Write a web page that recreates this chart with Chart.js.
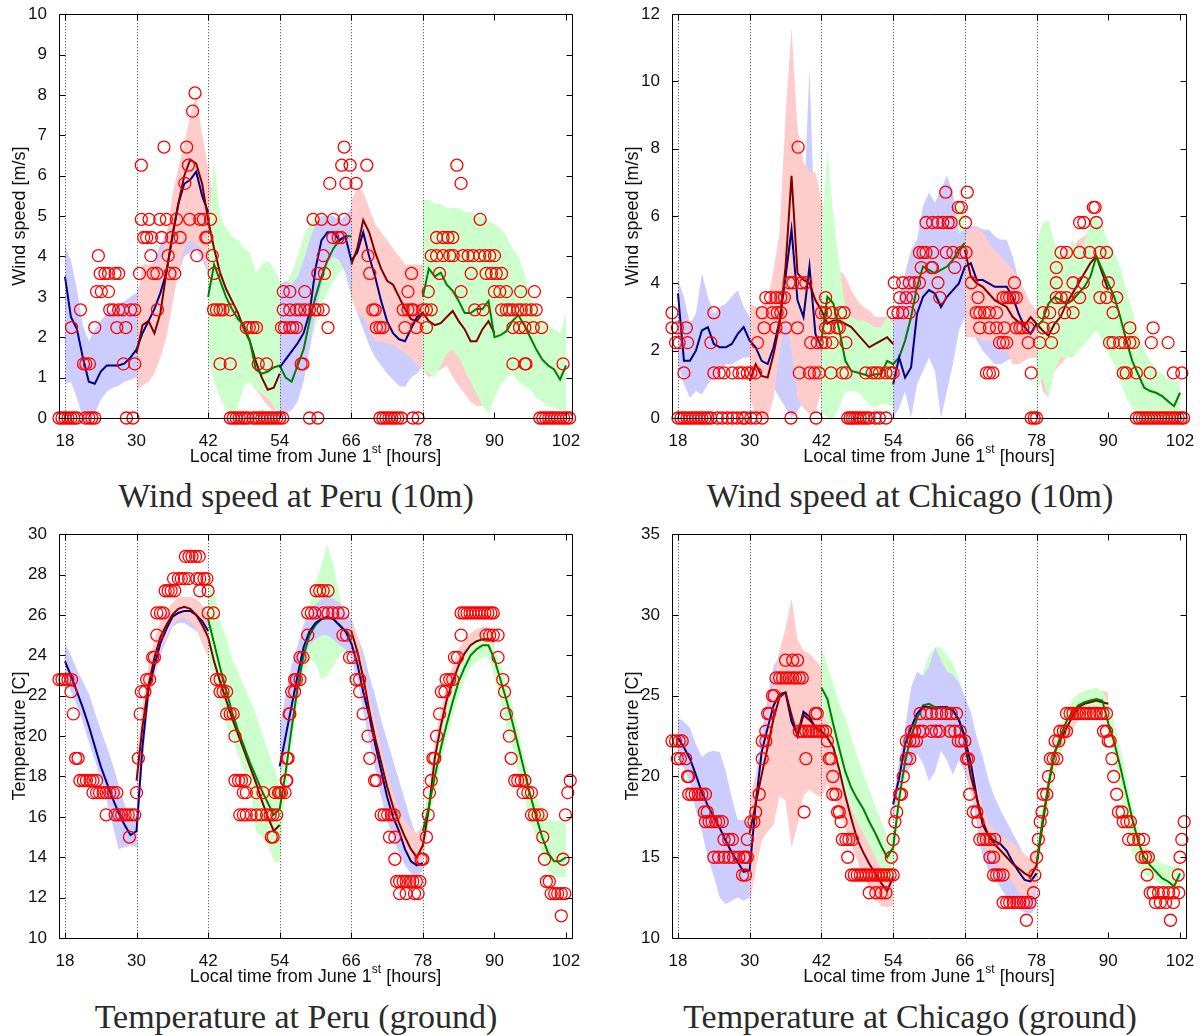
<!DOCTYPE html>
<html>
<head>
<meta charset="utf-8">
<script src="https://cdn.jsdelivr.net/npm/chart.js@4.4.1/dist/chart.umd.min.js"></script>
<style>
  html, body { margin: 0; padding: 0; background: #fff; }
  #page { position: relative; width: 1200px; height: 1036px; overflow: hidden; }
  canvas { position: absolute; }
  .caption {
    position: absolute; width: 600px; text-align: center; white-space: nowrap;
    font-family: "Liberation Serif", "Times New Roman", serif;
    font-size: 34px; line-height: 34px; color: #2a2a2a;
  }
</style>
</head>
<body>
<div id="page">
  <canvas id="c1" width="600" height="470" style="left:0;top:0"></canvas>
  <canvas id="c2" width="600" height="470" style="left:600px;top:0"></canvas>
  <canvas id="c3" width="600" height="470" style="left:0;top:520px"></canvas>
  <canvas id="c4" width="600" height="470" style="left:600px;top:520px"></canvas>
  <div class="caption" style="left:-4px;top:479px">Wind speed at Peru (10m)</div>
  <div class="caption" style="left:610px;top:479px">Wind speed at Chicago (10m)</div>
  <div class="caption" style="left:-4px;top:1000px">Temperature at Peru (ground)</div>
  <div class="caption" style="left:610px;top:1000px">Temperature at Chicago (ground)</div>
</div>
<script>
// forecast runs start every 12 h and last 24 h (hourly values)
const runStarts = [18, 30, 42, 54, 66, 78];
const hourTicks = [18, 30, 42, 54, 66, 78, 90, 102];
const dayLines = [18, 30, 42, 54, 66, 78];
const peruWindTicks = [0, 1, 2, 3, 4, 5, 6, 7, 8, 9, 10];
const chicagoWindTicks = [0, 2, 4, 6, 8, 10, 12];
const peruTempTicks = [10, 12, 14, 16, 18, 20, 22, 24, 26, 28, 30];
const chicagoTempTicks = [10, 15, 20, 25, 30, 35];

// ---- Wind speed at Peru ----
const peruWindMean = [
  [3.5, 2.5, 2.2, 1.5, 0.9, 0.85, 1.15, 1.3, 1.3, 1.3, 1.35, 1.5, 1.7, 2.1, 2.4, 2.7, 3.1, 3.6, 4.5, 5.3, 5.8, 5.9, 6.1, 5.5, 5.1],
  [1.6, 2.3, 2.4, 2.1, 2.6, 3.6, 4.5, 5.3, 6.0, 6.4, 6.3, 5.8, 4.9, 4.2, 3.6, 3.2, 2.9, 2.6, 2.2, 1.9, 1.4, 1.0, 0.7, 0.75, 1.1],
  [3.0, 3.8, 3.4, 3.0, 2.7, 2.45, 2.3, 1.9, 1.2, 1.1, 1.15, 1.25, 1.3, 1.0, 0.9, 1.3, 1.7, 2.4, 3.0, 3.5, 3.9, 4.2, 4.4, 4.5, 4.5],
  [1.25, 1.45, 1.65, 1.85, 2.1, 2.6, 3.7, 4.4, 4.6, 4.6, 4.4, 4.5, 3.9, 4.1, 4.6, 4.0, 3.5, 2.9, 2.4, 2.1, 1.95, 1.9, 2.2, 2.5, 2.6],
  [3.8, 4.2, 4.9, 4.6, 4.1, 3.7, 3.4, 3.3, 3.0, 2.7, 2.45, 2.4, 2.6, 2.4, 2.3, 2.35, 2.5, 2.65, 2.4, 2.2, 1.9, 1.9, 2.2, 2.4, 2.1],
  [3.0, 3.7, 3.5, 3.6, 3.3, 3.15, 2.9, 2.6, 2.6, 2.7, 2.7, 2.9, 2.0, 2.05, 2.15, 2.4, 2.55, 2.3, 2.0, 1.7, 1.45, 1.3, 1.2, 0.95, 1.3]
];
const peruWindLow = [
  [0.85, 0.9, 0.5, 0, 0, 0.1, 0.45, 0.65, 0.75, 0.8, 0.9, 0.95, 1.0, 1.2, 1.3, 1.5, 1.8, 2.3, 2.9, 3.6, 4.0, 4.1, 4.2, 3.9, 3.6],
  [0.7, 0.8, 0.9, 1.1, 1.5, 2.0, 2.8, 3.6, 4.2, 4.4, 4.3, 4.2, 3.6, 2.8, 2.2, 1.8, 1.5, 1.3, 1.1, 0.9, 0.7, 0.5, 0.3, 0.2, 0.2],
  [1.5, 0.9, 0.5, 0.2, 0, 0.3, 0.8, 0.9, 0.7, 0.6, 0.5, 0.3, 0, 0.2, 0.3, 0.6, 1.1, 1.7, 2.3, 2.8, 3.1, 3.4, 3.6, 3.7, 3.8],
  [0, 0.1, 0.2, 0.4, 0.9, 1.7, 2.6, 3.3, 3.8, 4.0, 3.9, 3.6, 3.0, 2.6, 2.2, 1.8, 1.5, 1.3, 1.1, 0.95, 0.8, 0.77, 1.0, 1.1, 1.3],
  [3.0, 2.6, 2.5, 2.2, 1.9, 1.9, 1.85, 1.8, 1.7, 1.6, 1.5, 1.3, 1.2, 1.0, 1.1, 1.2, 1.3, 1.0, 0.8, 0.6, 0.4, 0.3, 0.3, 0.5, 0.8],
  [1.2, 1.1, 1.0, 1.3, 1.6, 1.7, 1.5, 1.2, 0.9, 0.6, 0.3, 0.1, 0.5, 0.8, 1.0, 1.1, 0.9, 0.8, 0.7, 0.5, 0.4, 0.3, 0.25, 0.2, 0.2]
];
const peruWindHigh = [
  [4.3, 3.9, 3.2, 2.3, 1.9, 2.2, 2.4, 2.6, 2.7, 2.8, 2.9, 3.0, 3.1, 3.5, 3.7, 3.9, 4.3, 4.6, 5.0, 5.6, 5.9, 6.2, 6.4, 6.0, 5.6],
  [2.8, 3.8, 3.8, 3.8, 3.9, 4.5, 5.5, 6.2, 6.8, 7.5, 8.0, 7.0, 6.2, 5.4, 4.8, 4.4, 4.2, 4.0, 3.8, 3.6, 3.5, 3.3, 3.1, 2.9, 2.6],
  [4.5, 6.4, 5.0, 4.7, 4.5, 4.4, 4.2, 4.1, 3.6, 3.8, 3.9, 3.7, 3.4, 3.3, 3.6, 4.0, 4.5, 4.8, 5.0, 5.1, 5.0, 4.9, 4.8, 4.7, 4.8],
  [3.3, 3.4, 3.3, 3.5, 3.9, 4.4, 4.8, 5.0, 5.0, 5.0, 4.9, 5.0, 5.2, 5.0, 4.8, 4.5, 4.2, 3.8, 3.4, 3.0, 2.8, 2.6, 2.8, 3.0, 3.2],
  [5.4, 5.7, 5.6, 5.2, 4.8, 4.6, 4.4, 4.2, 4.0, 3.8, 3.8, 3.8, 3.8, 3.7, 3.6, 3.5, 3.5, 3.4, 3.3, 3.2, 3.1, 3.0, 3.0, 3.0, 2.9],
  [5.4, 5.4, 5.3, 5.3, 5.2, 5.2, 5.2, 5.1, 5.1, 5.0, 5.0, 4.9, 4.8, 4.7, 4.5, 4.2, 4.0, 3.6, 3.0, 2.7, 2.4, 2.3, 2.2, 2.1, 2.6]
];
// observations: [value, [hours]]
const peruWindObs = [
  [0, [17.0, 17.5, 18.0, 18.5, 19.0, 19.5, 20.0, 21.4, 22.0, 22.5, 23.0, 28.3, 29.4, 45.7, 46.2, 46.7, 47.2, 47.7, 48.2, 48.7, 49.5, 50.0, 50.5, 51.0, 51.5, 52.0, 52.5, 53.0, 53.5, 54.0, 54.5, 59.0, 60.4, 70.8, 71.3, 71.8, 72.3, 72.8, 73.3, 73.8, 74.4, 76.3, 77.2, 97.6, 98.1, 98.6, 99.1, 99.6, 100.1, 100.6, 101.1, 101.6, 102.1, 102.6]],
  [1.34, [21.1, 21.5, 22.1, 27.8, 29.7, 44.0, 45.7, 50.4, 51.8, 57.6, 57.9, 93.1, 95.1, 95.3, 101.5]],
  [2.24, [19.1, 23.0, 26.7, 28.2, 48.4, 48.9, 49.5, 50.1, 54.3, 54.8, 55.7, 56.2, 56.8, 62.1, 70.2, 70.8, 71.3, 75.0, 76.9, 78.6, 93.1, 94.2, 95.1, 96.5, 97.9]],
  [2.68, [20.6, 25.5, 26.1, 27.0, 27.7, 29.0, 29.7, 33.5, 42.9, 43.4, 44.0, 44.5, 45.7, 54.6, 55.7, 56.8, 57.4, 58.2, 59.0, 59.9, 60.4, 61.3, 69.6, 70.0, 74.7, 75.5, 76.1, 76.4, 78.0, 78.6, 79.4, 86.7, 88.1, 91.2, 92.0, 92.5, 93.1, 93.9, 94.5, 95.3, 96.2, 97.0]],
  [3.13, [23.3, 24.1, 25.3, 54.6, 55.7, 58.2, 75.5, 78.9, 84.4, 90.0, 90.9, 92.0, 94.4, 96.7]],
  [3.58, [23.9, 24.7, 25.3, 26.4, 27.0, 30.5, 32.8, 33.4, 35.6, 36.4, 43.0, 60.4, 61.5, 69.1, 76.1, 80.8, 86.1, 88.6, 89.5, 90.3, 91.2]],
  [4.02, [23.6, 32.4, 35.3, 40.1, 42.7, 61.3, 68.8, 79.4, 80.3, 81.4, 82.5, 83.1, 84.7, 85.6, 86.4, 87.5, 88.4, 89.2, 90.0]],
  [4.47, [31.2, 31.7, 32.5, 34.2, 35.9, 37.3, 41.6, 41.8, 62.9, 63.8, 64.3, 80.3, 81.4, 82.2, 83.0]],
  [4.92, [30.8, 32.1, 33.9, 35.0, 36.7, 38.9, 40.6, 41.2, 42.4, 59.6, 61.0, 63.0, 64.8, 87.6]],
  [5.81, [38.1, 62.4, 65.1, 66.8, 84.4]],
  [6.26, [30.8, 38.7, 64.4, 65.8, 68.6, 83.7]],
  [6.71, [34.6, 38.4, 64.8]],
  [7.6, [39.4]],
  [8.05, [39.8]]
];

// ---- Wind speed at Chicago ----
const chicagoWindMean = [
  [3.7, 1.7, 1.7, 2.0, 2.6, 2.7, 2.2, 2.1, 2.1, 2.2, 2.5, 2.7, 2.3, 2.1, 1.7, 1.6, 2.1, 2.9, 4.2, 5.6, 3.5, 3.0, 4.5, 2.5, 2.1],
  [1.1, 1.6, 1.25, 1.2, 1.9, 2.8, 4.5, 7.2, 4.3, 4.1, 4.0, 3.5, 3.2, 2.8, 2.9, 2.9, 2.8, 2.7, 2.5, 2.3, 2.1, 2.2, 2.3, 2.4, 2.2],
  [2.3, 3.6, 3.4, 2.6, 1.7, 1.4, 1.35, 1.3, 1.25, 1.3, 1.3, 1.7, 1.6, 1.8, 2.3, 3.0, 3.9, 4.5, 4.4, 4.3, 4.4, 4.5, 4.7, 5.0, 5.2],
  [1.0, 1.8, 1.2, 1.5, 3.1, 3.6, 3.8, 3.7, 3.3, 3.6, 3.8, 4.0, 4.5, 4.6, 4.1, 4.1, 4.0, 3.9, 3.9, 3.9, 3.6, 3.1, 2.7, 2.5, 2.8],
  [5.0, 4.2, 4.0, 3.9, 3.7, 3.5, 3.4, 3.3, 3.0, 2.85, 2.75, 3.0, 2.8, 2.6, 2.45, 2.8, 3.0, 3.4, 3.7, 4.0, 4.3, 4.6, 4.8, 4.3, 3.8],
  [2.7, 2.9, 3.4, 3.6, 3.5, 3.4, 3.5, 3.7, 3.9, 4.2, 4.8, 4.4, 4.0, 3.6, 3.0, 2.3, 1.7, 1.3, 0.9, 0.8, 0.75, 0.65, 0.5, 0.35, 0.75]
];
const chicagoWindLow = [
  [1.6, 1.0, 0.6, 0.8, 0.7, 1.0, 1.2, 1.4, 1.6, 1.6, 1.7, 1.8, 1.8, 1.5, 1.2, 1.0, 0.9, 0.6, 0.3, 0, 0.2, 0.5, 0.8, 1.0, 1.2],
  [0.6, 0.1, 0, 0, 0.6, 1.9, 3.0, 2.0, 0.6, 0.3, 0.1, 0.2, 0.8, 1.0, 1.1, 1.2, 1.2, 1.2, 1.1, 1.1, 1.0, 1.0, 1.1, 1.2, 1.3],
  [0.2, 0, 0, 0.3, 0.8, 0.8, 0.8, 0.6, 0.4, 0.3, 0.4, 0.4, 0.3, 0.6, 0.8, 1.5, 2.4, 3.0, 3.2, 3.3, 3.4, 3.4, 3.5, 3.7, 3.8],
  [0, 0.3, 0.8, 0, 1.0, 1.4, 1.8, 1.4, 0, 0.8, 1.6, 2.6, 3.0, 2.6, 2.3, 2.0, 1.8, 1.6, 1.6, 1.7, 1.8, 2.1, 2.2, 2.3, 2.4],
  [2.4, 2.4, 2.4, 2.3, 2.3, 2.3, 2.2, 2.0, 1.6, 1.6, 1.7, 1.8, 1.8, 0.8, 0.6, 1.4, 1.6, 1.8, 2.0, 2.2, 2.6, 2.8, 3.0, 2.8, 2.6],
  [0.8, 1.2, 0.6, 1.4, 1.8, 1.8, 1.8, 2.0, 2.2, 2.4, 2.6, 2.3, 1.9, 1.6, 1.1, 0.6, 0.3, 0.1, 0, 0, 0, 0, 0, 0, 0]
];
const chicagoWindHigh = [
  [4.1, 3.6, 2.8, 3.1, 4.3, 3.6, 3.1, 3.3, 3.4, 3.6, 3.8, 3.3, 3.0, 2.8, 3.0, 3.3, 3.8, 5.0, 8.3, 11.3, 6.5, 6.0, 10.4, 5.0, 4.0],
  [3.4, 3.3, 3.3, 3.5, 4.4, 5.5, 9.0, 11.6, 8.6, 7.6, 7.3, 7.3, 6.5, 5.5, 4.6, 4.4, 4.2, 3.8, 3.5, 3.3, 3.2, 3.0, 3.0, 3.0, 2.9],
  [5.6, 7.9, 6.0, 4.5, 3.3, 3.0, 2.9, 2.9, 2.8, 2.7, 2.7, 3.0, 2.8, 2.9, 3.2, 3.8, 4.6, 5.5, 5.8, 5.6, 5.8, 6.0, 6.2, 6.3, 6.2],
  [2.8, 3.6, 4.3, 5.0, 5.3, 6.3, 6.7, 6.4, 6.8, 7.2, 6.7, 5.5, 5.6, 5.7, 5.7, 5.6, 5.6, 5.4, 5.3, 5.3, 4.8, 4.1, 3.3, 3.0, 3.0],
  [5.4, 5.6, 5.7, 5.5, 5.2, 5.0, 4.8, 4.6, 4.4, 4.1, 3.8, 3.4, 3.2, 4.0, 4.3, 4.6, 4.8, 5.0, 5.1, 5.3, 5.4, 5.6, 5.7, 5.4, 5.0],
  [5.2, 5.8, 5.9, 5.2, 4.9, 4.8, 5.3, 5.0, 5.2, 5.9, 6.0, 5.7, 5.2, 4.9, 4.5, 3.8, 3.2, 2.5, 2.0, 1.7, 1.45, 1.3, 1.15, 1.1, 1.1]
];
const chicagoWindObs = [
  [0, [18.0, 18.5, 19.0, 19.5, 20.0, 20.5, 21.0, 21.5, 22.0, 22.5, 23.0, 23.5, 24.6, 25.4, 26.3, 27.1, 27.9, 28.8, 29.3, 30.2, 31.0, 32.1, 36.9, 41.1, 46.4, 46.8, 47.2, 47.6, 48.0, 48.5, 49.0, 49.5, 50.0, 51.0, 51.7, 52.8, 77.1, 77.6, 78.0, 94.7, 95.2, 95.7, 96.2, 96.7, 97.2, 97.7, 98.2, 98.7, 99.2, 99.7, 100.2, 100.7, 101.2, 101.7, 102.2, 102.6]],
  [1.34, [19.0, 24.0, 24.9, 25.7, 27.1, 28.2, 28.8, 29.6, 30.2, 31.0, 38.3, 40.0, 40.8, 41.6, 43.6, 45.5, 46.1, 49.4, 50.5, 51.1, 51.7, 52.8, 53.6, 54.0, 69.6, 70.1, 70.7, 77.1, 92.5, 93.0, 94.7, 97.0, 100.9, 102.3]],
  [2.24, [17.6, 18.2, 19.6, 23.5, 31.3, 40.2, 41.3, 42.1, 42.7, 43.8, 46.1, 71.8, 72.4, 73.0, 76.6, 78.5, 80.5, 90.2, 90.8, 91.9, 92.7, 93.6, 94.2, 97.2, 100.0]],
  [2.68, [17.0, 17.9, 19.4, 32.4, 34.4, 36.0, 38.0, 42.7, 43.3, 44.6, 45.0, 68.5, 70.1, 71.3, 72.6, 74.6, 75.2, 75.7, 76.6, 79.1, 80.8, 93.6, 97.5]],
  [3.13, [17.0, 24.0, 32.1, 33.8, 34.6, 35.2, 42.0, 42.7, 43.8, 45.2, 45.8, 54.0, 54.8, 55.6, 56.7, 67.9, 68.5, 69.3, 70.1, 71.3, 79.1, 80.2, 82.7, 84.1, 90.8]],
  [3.58, [32.7, 33.5, 34.4, 35.2, 35.8, 42.7, 55.1, 56.2, 57.3, 61.8, 68.2, 72.4, 73.0, 73.5, 74.1, 74.6, 81.3, 82.1, 83.0, 85.2, 88.6, 89.7, 91.4]],
  [4.02, [36.6, 37.2, 38.6, 39.4, 54.2, 55.6, 56.7, 57.6, 58.4, 61.5, 67.1, 74.3, 81.3, 84.1, 85.8, 90.0]],
  [4.47, [58.7, 60.4, 60.6, 64.3, 81.3]],
  [4.92, [58.4, 59.0, 59.5, 60.6, 62.9, 64.0, 65.4, 66.2, 82.1, 83.0, 85.2, 86.9, 88.6, 89.7]],
  [5.81, [59.5, 60.6, 61.5, 62.3, 63.2, 63.7, 66.1, 85.2, 85.9, 88.0]],
  [6.26, [64.9, 65.4, 87.5, 87.8]],
  [6.71, [62.8, 66.4]],
  [8.05, [38.1]]
];

// ---- Temperature at Peru ----
const peruTempMean = [
  [23.7, 23.0, 22.2, 21.4, 20.5, 19.5, 18.5, 17.7, 16.9, 16.2, 15.6, 15.1, 15.3, 19.5, 22.3, 23.5, 24.6, 25.3, 25.9, 26.1, 26.2, 26.2, 26.0, 25.7, 25.2],
  [17.8, 20.5, 22.5, 23.9, 24.9, 25.5, 26.0, 26.3, 26.4, 26.3, 26.0, 25.5, 24.9, 23.7, 22.7, 21.8, 20.9, 20.1, 19.3, 18.5, 17.7, 16.8, 16.0, 15.3, 15.6],
  [25.8, 24.6, 23.4, 22.3, 21.2, 20.3, 19.5, 18.7, 18.0, 17.3, 16.7, 16.1, 16.4, 18.2, 20.4, 22.4, 24.0, 25.0, 25.5, 25.8, 25.9, 25.8, 25.5, 25.2, 24.9],
  [18.5, 20.0, 21.5, 23.0, 24.4, 25.2, 25.6, 25.8, 25.9, 25.8, 25.5, 25.2, 24.6, 23.6, 22.2, 21.0, 19.6, 18.3, 17.0, 16.0, 15.3, 14.4, 13.8, 13.6, 13.7],
  [25.2, 24.2, 22.9, 21.3, 19.9, 18.7, 17.5, 16.5, 15.7, 15.0, 14.4, 14.0, 14.6, 16.4, 18.9, 20.5, 21.8, 22.7, 23.5, 24.1, 24.5, 24.7, 24.8, 24.8, 24.7],
  [15.3, 16.5, 18.0, 19.4, 20.6, 21.7, 22.7, 23.4, 24.0, 24.3, 24.5, 24.5, 23.8, 22.8, 21.8, 20.7, 19.5, 18.3, 17.1, 16.0, 15.0, 14.2, 13.8, 13.8, 14.0]
];
const peruTempLow = [
  [22.9, 22.2, 21.5, 20.7, 19.7, 18.8, 17.9, 16.8, 15.6, 14.4, 14.5, 14.6, 14.5, 18.6, 21.6, 22.9, 24.0, 24.7, 25.4, 25.6, 25.6, 25.4, 25.2, 24.8, 24.4],
  [16.6, 19.5, 21.5, 23.0, 24.2, 24.9, 25.5, 25.8, 25.9, 25.7, 25.3, 24.6, 23.9, 22.8, 21.9, 21.0, 20.1, 19.3, 18.5, 17.6, 16.8, 15.9, 15.0, 14.4, 14.7],
  [24.0, 22.8, 21.5, 20.6, 19.9, 19.1, 18.3, 17.5, 15.3, 15.0, 14.6, 13.8, 13.7, 17.5, 19.5, 21.5, 23.0, 23.8, 23.6, 22.8, 23.0, 23.5, 24.0, 24.2, 24.3],
  [18.0, 19.0, 20.5, 22.0, 23.5, 24.5, 24.8, 25.0, 25.0, 24.8, 24.5, 24.3, 23.8, 22.8, 21.2, 19.8, 18.4, 17.0, 15.8, 15.0, 14.2, 13.6, 13.2, 13.1, 13.3],
  [24.6, 23.4, 22.0, 20.5, 19.2, 18.0, 16.8, 15.8, 15.0, 14.4, 13.9, 13.6, 13.8, 15.6, 18.0, 19.8, 21.0, 22.0, 22.8, 23.4, 23.9, 24.1, 24.2, 24.2, 24.1],
  [14.6, 15.7, 17.2, 18.6, 19.9, 21.0, 22.0, 22.8, 23.4, 23.7, 23.9, 23.9, 22.9, 21.7, 20.5, 19.5, 18.2, 17.0, 15.7, 15.0, 14.2, 13.3, 13.0, 13.0, 13.0]
];
const peruTempHigh = [
  [24.6, 24.0, 23.3, 22.7, 22.1, 21.2, 20.3, 19.5, 18.6, 17.6, 16.6, 15.8, 16.1, 20.3, 23.0, 24.3, 25.3, 25.9, 26.4, 26.6, 26.7, 26.6, 26.5, 26.2, 25.8],
  [19.1, 21.5, 23.5, 24.8, 25.7, 26.2, 26.6, 26.9, 26.9, 26.9, 26.8, 26.5, 26.0, 24.6, 23.6, 22.7, 21.8, 21.0, 20.2, 19.4, 18.6, 17.8, 17.0, 16.3, 16.5],
  [28.2, 27.3, 25.7, 24.9, 23.8, 23.2, 22.5, 21.8, 21.1, 20.2, 19.3, 18.5, 17.5, 20.0, 22.0, 24.0, 25.5, 26.5, 27.5, 28.5, 29.5, 28.5, 27.0, 26.0, 25.5],
  [20.5, 22.0, 23.5, 24.5, 25.5, 26.2, 26.5, 26.8, 26.9, 26.8, 26.6, 26.2, 25.8, 25.0, 24.2, 23.0, 22.0, 20.8, 19.8, 18.8, 17.8, 16.8, 15.8, 15.0, 14.5],
  [25.8, 25.0, 23.6, 22.0, 20.7, 19.4, 18.2, 17.2, 16.4, 15.8, 15.4, 15.2, 15.6, 17.4, 19.8, 21.3, 22.6, 23.5, 24.3, 24.8, 25.1, 25.3, 25.4, 25.4, 25.2],
  [16.0, 17.3, 18.8, 20.1, 21.3, 22.4, 23.3, 24.0, 24.5, 24.8, 25.0, 25.0, 24.3, 23.6, 22.6, 21.6, 20.3, 19.0, 17.7, 17.0, 16.4, 15.9, 15.8, 15.8, 15.8]
];
const peruTempObs = [
  [28.9, [38.2, 38.8, 39.3, 39.9, 40.5]],
  [27.8, [36.2, 37.0, 37.5, 38.0, 38.7, 40.1, 40.6, 41.3, 41.8]],
  [27.2, [34.8, 35.3, 35.8, 36.4, 40.6, 42.0, 60.1, 60.7, 61.3, 62.1]],
  [26.1, [33.4, 34.0, 34.5, 42.0, 42.9, 58.7, 59.3, 59.9, 61.3, 62.1, 62.9, 63.8, 64.6, 84.4, 84.9, 85.4, 85.9, 86.4, 86.9, 87.4, 87.9, 88.4, 88.9, 89.4, 89.8]],
  [25.0, [33.4, 58.7, 64.6, 65.2, 84.4, 88.6, 89.2, 89.8, 90.6]],
  [23.9, [32.7, 33.0, 57.4, 57.9, 65.7, 66.3, 83.3, 83.8, 90.6]],
  [22.8, [17.0, 17.5, 18.0, 18.5, 19.1, 31.7, 32.2, 43.4, 44.0, 56.5, 56.8, 57.4, 66.8, 67.4, 81.9, 82.5, 83.0, 91.4]],
  [22.2, [19.0, 30.8, 31.4, 44.0, 44.5, 45.1, 56.0, 56.5, 67.4, 81.1, 81.7, 91.7]],
  [21.1, [19.4, 30.6, 45.1, 45.7, 46.2, 55.6, 55.7, 68.0, 80.8, 92.0]],
  [20.0, [46.5, 68.8, 80.3, 92.5]],
  [18.9, [19.8, 20.2, 30.3, 55.2, 55.4, 69.1, 79.7, 80.0, 92.8]],
  [17.8, [20.5, 21.1, 21.6, 22.2, 22.7, 23.3, 46.5, 47.1, 47.6, 48.2, 55.1, 55.2, 69.9, 70.2, 79.4, 93.4, 93.9, 94.5, 95.1, 102.7]],
  [17.2, [22.7, 23.3, 23.8, 24.4, 24.9, 25.5, 26.1, 26.7, 30.0, 47.9, 48.4, 50.1, 51.2, 53.2, 53.8, 54.0, 54.3, 54.9, 79.1, 94.8, 95.6, 96.2, 102.3]],
  [16.1, [24.9, 26.4, 27.0, 27.5, 28.1, 28.6, 29.2, 29.7, 47.3, 47.9, 48.4, 49.2, 50.1, 50.9, 51.8, 52.4, 52.9, 53.5, 71.0, 71.5, 72.1, 72.7, 73.2, 78.9, 96.2, 96.7, 97.3, 97.9, 101.9]],
  [15.0, [28.8, 52.6, 52.9, 72.4, 73.3, 78.6, 98.1]],
  [13.9, [73.3, 77.7, 78.0, 98.4, 101.5]],
  [12.8, [73.6, 74.1, 74.7, 75.2, 75.8, 76.3, 76.9, 77.5, 98.7, 99.2]],
  [12.2, [74.1, 75.2, 76.6, 77.2, 99.5, 100.1, 100.6, 101.2, 101.8]],
  [11.1, [101.2]]
];

// ---- Temperature at Chicago ----
const chicagoTempMean = [
  [22.4, 21.8, 21.1, 20.1, 19.0, 18.2, 17.5, 16.8, 16.0, 15.3, 14.7, 14.1, 14.2, 18.3, 21.5, 23.0, 24.4, 25.1, 25.2, 23.4, 22.6, 24.0, 23.7, 23.0, 22.8],
  [16.5, 18.3, 20.1, 21.8, 23.6, 24.9, 25.2, 23.8, 22.5, 23.8, 23.5, 23.1, 22.8, 22.4, 21.8, 20.4, 18.8, 17.4, 16.1, 15.3, 14.6, 14.0, 13.4, 12.9, 13.8],
  [25.5, 24.8, 23.2, 21.7, 20.3, 19.3, 18.6, 18.0, 17.2, 16.5, 15.7, 15.0, 15.6, 18.6, 20.9, 22.5, 23.6, 24.4, 24.5, 24.3, 24.3, 24.2, 24.1, 23.5, 22.5],
  [18.3, 19.9, 22.0, 23.0, 23.9, 24.3, 24.3, 24.2, 24.3, 24.3, 24.1, 23.5, 22.4, 20.8, 18.7, 17.0, 16.3, 16.0, 15.8, 15.4, 14.7, 14.1, 13.6, 13.5, 14.0],
  [22.0, 20.0, 18.6, 17.2, 16.3, 15.8, 15.4, 15.0, 14.6, 14.3, 14.0, 13.8, 14.5, 17.0, 19.5, 21.5, 22.3, 23.0, 23.7, 24.3, 24.5, 24.6, 24.7, 24.6, 24.5],
  [14.6, 17.3, 19.5, 21.4, 22.5, 23.4, 24.0, 24.4, 24.6, 24.7, 24.8, 24.7, 23.3, 22.1, 20.6, 19.0, 17.4, 16.0, 15.0, 14.5, 14.1, 13.7, 13.5, 13.2, 14.0]
];
const chicagoTempLow = [
  [21.2, 20.5, 19.6, 17.9, 16.6, 15.0, 13.8, 12.5, 12.1, 12.3, 12.5, 12.3, 12.5, 16.0, 19.0, 21.0, 22.5, 23.5, 23.5, 21.5, 20.5, 22.0, 21.5, 21.0, 20.5],
  [12.1, 14.2, 16.0, 16.6, 17.0, 18.8, 18.5, 15.6, 17.0, 18.8, 19.2, 18.9, 18.7, 19.5, 19.0, 17.9, 16.8, 15.8, 14.8, 13.8, 13.1, 12.4, 12.0, 11.9, 12.0],
  [24.1, 23.3, 22.0, 20.5, 19.1, 18.0, 17.2, 16.5, 15.8, 15.0, 14.3, 13.7, 13.6, 17.5, 20.0, 21.5, 22.3, 22.5, 22.0, 21.5, 21.5, 22.0, 22.5, 22.0, 21.0],
  [17.1, 19.3, 20.1, 20.6, 21.4, 20.8, 19.7, 20.3, 21.6, 21.0, 20.1, 21.0, 20.3, 19.0, 17.1, 15.0, 14.2, 13.8, 13.1, 12.5, 12.1, 11.8, 11.6, 11.5, 11.9],
  [21.2, 19.0, 17.8, 15.8, 15.2, 14.8, 14.3, 13.9, 13.5, 12.9, 12.6, 12.5, 13.4, 16.2, 18.7, 20.7, 21.5, 22.2, 22.9, 23.5, 23.8, 23.9, 24.0, 23.9, 23.8],
  [13.8, 16.0, 18.2, 20.0, 21.3, 22.6, 23.4, 23.8, 24.0, 24.2, 24.4, 24.1, 22.8, 21.0, 19.0, 17.0, 15.3, 14.5, 14.0, 13.7, 13.5, 13.3, 13.1, 12.9, 13.0]
];
const chicagoTempHigh = [
  [23.6, 23.4, 23.0, 22.0, 21.2, 21.5, 21.6, 21.5, 20.3, 18.7, 17.3, 17.3, 17.0, 20.0, 22.5, 25.0, 26.8, 27.5, 27.0, 25.5, 24.5, 25.0, 25.0, 24.5, 24.0],
  [18.7, 20.0, 21.5, 23.5, 25.8, 27.8, 29.2, 31.0, 28.5, 27.8, 27.6, 27.2, 26.8, 26.0, 25.0, 24.0, 22.8, 21.6, 20.4, 19.2, 18.0, 17.0, 16.2, 15.6, 15.5],
  [28.0, 26.9, 25.7, 24.5, 23.6, 22.4, 21.2, 20.2, 19.2, 18.2, 17.2, 16.4, 16.5, 19.5, 22.5, 24.5, 25.5, 26.5, 27.5, 28.0, 28.0, 27.5, 27.0, 26.0, 25.0],
  [18.5, 21.0, 23.0, 25.5, 26.5, 26.2, 26.8, 28.0, 27.2, 26.5, 26.3, 25.8, 24.9, 24.0, 22.4, 21.2, 19.7, 18.7, 17.9, 17.2, 16.5, 15.8, 15.0, 14.6, 14.6],
  [22.8, 21.6, 19.5, 18.0, 17.1, 16.6, 16.3, 16.1, 15.9, 15.5, 15.2, 14.9, 15.6, 17.8, 20.3, 22.2, 23.0, 23.7, 24.4, 25.0, 25.2, 25.3, 25.4, 25.3, 25.2],
  [15.8, 18.3, 20.3, 22.0, 23.0, 24.0, 24.8, 25.1, 25.3, 25.4, 25.5, 25.3, 24.6, 23.3, 21.8, 20.0, 18.1, 16.8, 15.8, 15.3, 14.9, 14.6, 14.5, 14.4, 14.6]
];
const chicagoTempObs = [
  [27.2, [36.0, 37.2, 38.0]],
  [26.1, [34.4, 35.0, 35.5, 36.1, 36.6, 37.2, 37.7, 38.3, 38.8]],
  [25.0, [33.8, 34.1]],
  [23.9, [33.0, 33.3, 41.0, 41.3, 58.5, 59.6, 60.4, 61.3, 62.1, 62.9, 63.7, 64.6, 83.0, 83.6, 84.1, 84.7, 85.2, 85.8, 86.3, 86.9, 87.5, 88.0, 88.6, 89.1, 89.7]],
  [22.8, [32.7, 38.3, 38.8, 39.4, 39.9, 40.5, 41.1, 41.6, 42.2, 42.7, 57.1, 57.6, 58.4, 59.0, 60.4, 61.2, 61.8, 63.5, 64.3, 65.2, 81.9, 82.5, 83.0, 89.2, 89.7]],
  [22.2, [17.0, 17.6, 18.2, 18.7, 32.1, 32.7, 43.0, 56.2, 56.8, 57.4, 57.9, 64.9, 65.4, 66.0, 81.1, 81.7, 90.0, 90.3]],
  [21.1, [17.9, 18.4, 19.3, 32.1, 39.4, 43.3, 43.6, 56.2, 56.8, 66.3, 66.6, 80.3, 80.8, 81.4, 90.6]],
  [20.0, [19.6, 19.8, 43.9, 55.7, 80.0, 90.9]],
  [18.9, [19.8, 20.3, 20.9, 21.4, 22.0, 22.6, 31.6, 43.9, 44.4, 55.1, 55.4, 66.8, 79.1, 79.7, 91.4]],
  [17.8, [22.4, 22.9, 31.0, 39.1, 44.7, 45.0, 54.6, 67.4, 68.0, 78.9, 91.7, 92.3]],
  [17.2, [22.6, 23.2, 23.7, 24.3, 24.8, 25.4, 30.2, 30.7, 45.3, 54.3, 68.2, 78.6, 92.5, 93.1, 93.7, 102.7]],
  [16.1, [25.7, 26.5, 27.1, 29.6, 45.5, 46.1, 46.6, 47.2, 54.0, 68.5, 69.1, 69.6, 70.2, 71.0, 78.3, 93.4, 94.2, 95.1, 95.9, 102.3]],
  [15.0, [24.0, 24.8, 25.7, 26.5, 27.3, 28.2, 29.0, 29.3, 29.6, 46.4, 53.7, 70.2, 70.8, 78.0, 95.6, 96.2, 96.7, 102.0]],
  [13.9, [28.8, 29.3, 47.0, 47.5, 48.0, 48.5, 49.0, 49.5, 50.0, 50.5, 51.0, 51.5, 52.0, 52.5, 53.0, 53.5, 54.0, 70.8, 71.3, 71.8, 72.4, 77.7, 96.5, 101.7]],
  [12.8, [50.0, 51.1, 52.0, 52.8, 77.5, 97.0, 97.5, 98.4, 99.2, 100.1, 100.9, 101.8]],
  [12.2, [72.4, 73.0, 73.5, 74.1, 74.7, 75.2, 75.8, 76.3, 76.9, 97.9, 98.7, 99.6, 100.9]],
  [11.1, [76.3, 100.4]]
];

const bandColors = ['#ccccff', '#ffcccc', '#ccffcc', '#ccccff', '#ffcccc', '#ccffcc'];
const lineColors = ['#000080', '#800000', '#008000', '#000080', '#800000', '#008000'];
const FONT = '"Liberation Sans", Arial, Helvetica, sans-serif';

function runPoints(start, values) {
  return values.map((v, i) => ({ x: start + i, y: v }));
}

function buildDatasets(mean, low, high, obs) {
  const sets = [];
  runStarts.forEach((start, r) => {
    // upper edge fills down to the lower edge (next dataset)
    sets.push({ data: runPoints(start, high[r]), fill: '+1', backgroundColor: bandColors[r],
      borderColor: 'rgba(0,0,0,0)', borderWidth: 0, pointRadius: 0, order: 100 - r });
    sets.push({ data: runPoints(start, low[r]), fill: false,
      borderColor: 'rgba(0,0,0,0)', borderWidth: 0, pointRadius: 0, order: 100 - r });
  });
  runStarts.forEach((start, r) => {
    sets.push({ data: runPoints(start, mean[r]), fill: false, borderColor: lineColors[r],
      borderWidth: 2, pointRadius: 0, order: 20 - r });
  });
  sets.push({
    data: obs.flatMap(([v, hours]) => hours.map(h => ({ x: h, y: v }))),
    showLine: false, pointRadius: 6, pointBorderColor: '#ff0000',
    pointBackgroundColor: 'rgba(0,0,0,0)', pointBorderWidth: 1.3, clip: false, order: 0
  });
  return sets;
}

// MATLAB-like box, inward ticks, dotted day lines, x-axis title with superscript
const framePlugin = {
  id: 'matlabFrame',
  afterDatasetsDraw(chart) {
    const { ctx, chartArea: a } = chart;
    const x = chart.scales.x;
    ctx.save();
    ctx.strokeStyle = '#444';
    ctx.lineWidth = 1;
    ctx.setLineDash([1, 2]);
    dayLines.forEach(h => {
      const px = Math.round(x.getPixelForValue(h)) + 0.5;
      ctx.beginPath();
      ctx.moveTo(px, a.top);
      ctx.lineTo(px, a.bottom);
      ctx.stroke();
    });
    ctx.restore();
  },
  afterDraw(chart) {
    const { ctx, chartArea: a } = chart;
    const { x, y } = chart.scales;
    const L = Math.round(a.left) + 0.5, R = Math.round(a.right) + 0.5;
    const T = Math.round(a.top) + 0.5, B = Math.round(a.bottom) + 0.5;
    ctx.save();
    ctx.strokeStyle = '#000';
    ctx.lineWidth = 1;
    ctx.beginPath();
    ctx.rect(L, T, R - L, B - T);
    x.ticks.forEach(t => {
      const px = Math.round(x.getPixelForValue(t.value)) + 0.5;
      ctx.moveTo(px, B); ctx.lineTo(px, B - 6);
      ctx.moveTo(px, T); ctx.lineTo(px, T + 6);
    });
    y.ticks.forEach(t => {
      const py = Math.round(y.getPixelForValue(t.value)) + 0.5;
      ctx.moveTo(L, py); ctx.lineTo(L + 6, py);
      ctx.moveTo(R, py); ctx.lineTo(R - 6, py);
    });
    ctx.stroke();

    const main = 'Local time from June 1', sup = 'st', tail = ' [hours]';
    ctx.fillStyle = '#111';
    ctx.textBaseline = 'alphabetic';
    ctx.textAlign = 'left';
    ctx.font = '18px ' + FONT;
    const w1 = ctx.measureText(main).width;
    const w3 = ctx.measureText(tail).width;
    ctx.font = '12px ' + FONT;
    const w2 = ctx.measureText(sup).width;
    let px = (a.left + a.right) / 2 - (w1 + w2 + w3) / 2;
    const base = a.bottom + 44;
    ctx.font = '18px ' + FONT;
    ctx.fillText(main, px, base);
    px += w1;
    ctx.font = '12px ' + FONT;
    ctx.fillText(sup, px, base - 9);
    px += w2;
    ctx.font = '18px ' + FONT;
    ctx.fillText(tail, px, base);
    ctx.restore();
  }
};

function makePanel(p) {
  new Chart(document.getElementById(p.id), {
    type: 'line',
    data: { datasets: buildDatasets(p.mean, p.low, p.high, p.obs) },
    options: {
      responsive: false,
      animation: false,
      events: [],
      layout: { padding: { top: 13, right: p.padRight, left: 0, bottom: 0 } },
      elements: { line: { tension: 0 } },
      plugins: { legend: { display: false }, tooltip: { enabled: false } },
      scales: {
        x: {
          type: 'linear', min: 17, max: 103,
          grid: { display: false }, border: { display: false },
          afterBuildTicks: s => { s.ticks = hourTicks.map(v => ({ value: v })); },
          afterFit: s => { s.height = 52; },
          ticks: { autoSkip: false, maxRotation: 0, padding: 5, color: '#111',
            font: { family: FONT, size: 17 }, callback: v => String(v) }
        },
        y: {
          type: 'linear', min: p.yMin, max: p.yMax,
          grid: { display: false }, border: { display: false },
          afterBuildTicks: s => { s.ticks = p.yTicks.map(v => ({ value: v })); },
          afterFit: s => { s.width = p.axisWidth; },
          ticks: { padding: 4, color: '#111', font: { family: FONT, size: 17 }, callback: v => String(v) },
          title: { display: true, text: p.yTitle, color: '#111',
            font: { family: FONT, size: 18 }, padding: { top: p.titlePad, bottom: 0 } }
        }
      }
    },
    plugins: [framePlugin]
  });
}

makePanel({ id: 'c1', mean: peruWindMean, low: peruWindLow, high: peruWindHigh, obs: peruWindObs,
  yMin: 0, yMax: 10, yTicks: peruWindTicks, yTitle: 'Wind speed [m/s]', axisWidth: 59, padRight: 28, titlePad: 9 });
makePanel({ id: 'c2', mean: chicagoWindMean, low: chicagoWindLow, high: chicagoWindHigh, obs: chicagoWindObs,
  yMin: 0, yMax: 12, yTicks: chicagoWindTicks, yTitle: 'Wind speed [m/s]', axisWidth: 72, padRight: 14, titlePad: 22 });
makePanel({ id: 'c3', mean: peruTempMean, low: peruTempLow, high: peruTempHigh, obs: peruTempObs,
  yMin: 10, yMax: 30, yTicks: peruTempTicks, yTitle: 'Temperature [C]', axisWidth: 59, padRight: 28, titlePad: 9 });
makePanel({ id: 'c4', mean: chicagoTempMean, low: chicagoTempLow, high: chicagoTempHigh, obs: chicagoTempObs,
  yMin: 10, yMax: 35, yTicks: chicagoTempTicks, yTitle: 'Temperature [C]', axisWidth: 72, padRight: 14, titlePad: 22 });
</script>
</body>
</html>
